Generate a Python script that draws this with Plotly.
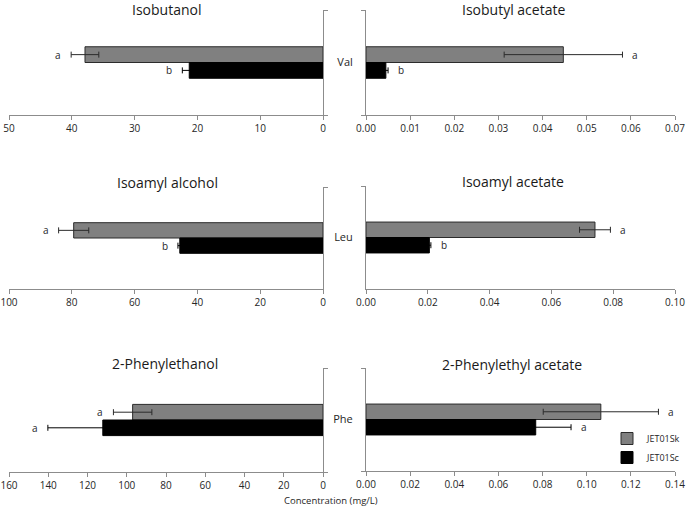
import plotly.graph_objects as go

# panels in reading order (left: alcohols, right: acetates)
compounds = ["Isobutanol", "Isobutyl acetate", "Isoamyl alcohol",
             "Isoamyl acetate", "2-Phenylethanol", "2-Phenylethyl acetate"]
amino_acids = ["Val", "Leu", "Phe"]

sk_mean = [37.9, 0.0447, 79.4, 0.0741, 97.0, 0.1064]
sk_err = [2.2, 0.0134, 4.8, 0.0050, 9.8, 0.0261]
sc_mean = [21.3, 0.0045, 45.6, 0.0205, 112.2, 0.0769]
sc_err = [1.1, 0.0005, 0.6, 0.0005, 28.0, 0.0160]
sk_letters = ["a", "a", "a", "a", "a", "a"]
sc_letters = ["b", "b", "b", "b", "a", "a"]

x_max = [50, 0.07, 100, 0.10, 160, 0.14]
x_dtick = [10, 0.01, 20, 0.02, 20, 0.02]

W, H = 686, 508
FONT = "Open Sans"
AXIS_COLOR = "#8c8c8c"
TEXT_COLOR = "#262626"

# pixel boxes of each plot area: (left, right, top, bottom)
boxes = [(9, 323, 10, 115), (366, 675, 10, 115),
         (9, 323, 187, 289), (366, 675, 186, 289),
         (9, 323, 368, 472), (366, 675, 368, 471)]
title_pos = [(166, 10), (513, 10), (167, 182), (513, 181), (165, 363), (512, 364)]

fig = go.Figure()

for i in range(6):
    n = "" if i == 0 else str(i + 1)
    xa, ya = "x" + n, "y" + n
    cat = amino_acids[i // 2]
    fig.add_trace(go.Bar(
        name="JET01Sk", x=[sk_mean[i]], y=[cat], orientation="h",
        xaxis=xa, yaxis=ya, showlegend=(i == 0),
        marker=dict(color="#808080", line=dict(color="#2b2b2b", width=1)),
        error_x=dict(type="data", array=[sk_err[i]], color="#2b2b2b", thickness=1, width=3)))
    fig.add_trace(go.Bar(
        name="JET01Sc", x=[sc_mean[i]], y=[cat], orientation="h",
        xaxis=xa, yaxis=ya, showlegend=(i == 0),
        marker=dict(color="#000000", line=dict(color="#000000", width=1)),
        error_x=dict(type="data", array=[sc_err[i]], color="#000000", thickness=1, width=3)))

    left = (i % 2 == 0)
    l, r, t, b = boxes[i]
    xrange = [x_max[i], 0] if left else [0, x_max[i]]
    fig.layout["xaxis" + n] = dict(
        domain=[l / W, r / W], range=xrange, dtick=x_dtick[i], anchor=ya,
        tickformat=".2f" if not left else "d", automargin=False,
        ticklabeloverflow="allow",
        showline=True, linecolor=AXIS_COLOR, linewidth=1,
        ticks="outside", ticklen=4, tickcolor=AXIS_COLOR,
        showgrid=False, zeroline=False,
        tickfont=dict(family=FONT, size=10, color=TEXT_COLOR))
    fig.layout["yaxis" + n] = dict(
        domain=[(H - b) / H, (H - t) / H], type="category", range=[0.5, -0.5],
        anchor=xa, side="right" if left else "left", automargin=False,
        showline=True, linecolor=AXIS_COLOR, linewidth=1,
        ticks="outside", ticklen=4, tickcolor=AXIS_COLOR, tickson="boundaries",
        showticklabels=not left, ticklabelstandoff=10,
        showgrid=False, zeroline=False,
        tickfont=dict(family=FONT, size=11, color=TEXT_COLOR))

    # significance letters past the error bars
    shift = -13 if left else 13
    for val, err, letter, pos in [(sk_mean[i], sk_err[i], sk_letters[i], -0.075),
                                  (sc_mean[i], sc_err[i], sc_letters[i], 0.075)]:
        fig.add_annotation(x=val + err, y=pos, xref=xa, yref=ya, text=letter,
                           showarrow=False, xshift=shift, xanchor="center",
                           font=dict(family=FONT, size=10, color=TEXT_COLOR))

    tx, ty = title_pos[i]
    fig.add_annotation(x=tx / W, y=(H - ty) / H, xref="paper", yref="paper",
                       text=compounds[i], showarrow=False, xanchor="center", yanchor="middle",
                       font=dict(family=FONT, size=14, color="#1a1a1a"))

fig.add_annotation(x=331 / W, y=(H - 500) / H, xref="paper", yref="paper",
                   text="Concentration (mg/L)", showarrow=False,
                   xanchor="center", yanchor="middle",
                   font=dict(family=FONT, size=9.5, color=TEXT_COLOR))

fig.update_layout(
    width=W, height=H, autosize=False,
    margin=dict(l=0, r=0, t=0, b=0),
    barmode="group", bargap=0.7, bargroupgap=0,
    plot_bgcolor="white", paper_bgcolor="white",
    font=dict(family=FONT, color=TEXT_COLOR),
    # kept inside the paper so it does not push the margins
    legend=dict(x=1, y=(H - 424) / H, xanchor="right", yanchor="top",
                bgcolor="rgba(0,0,0,0)", font=dict(family=FONT, size=9, color=TEXT_COLOR),
                tracegroupgap=0),
)

# drop the default page margin so the figure sits at the window's corner
fig.write_html("out.html", config={"displayModeBar": False, "responsive": False},
               post_script="document.body.style.margin='0';document.body.style.overflow='hidden';")
